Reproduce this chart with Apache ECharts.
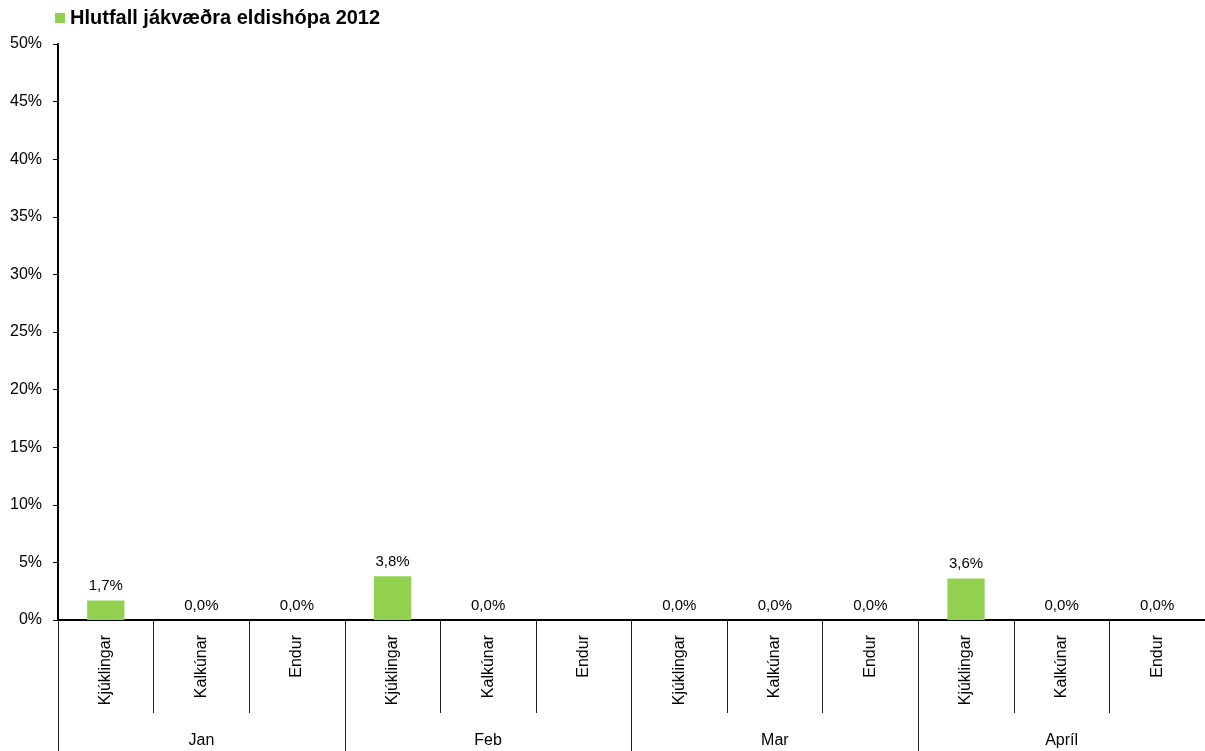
<!DOCTYPE html>
<html><head><meta charset="utf-8">
<script src="https://cdn.jsdelivr.net/npm/echarts@6/dist/echarts.min.js"></script>
<style>html,body{margin:0;padding:0;background:#fff}#c{width:1205px;height:751px}</style>
</head><body><div id="c"></div>
<script>
const categories = ['Kjúklingar','Kalkúnar','Endur','Kjúklingar','Kalkúnar','Endur','Kjúklingar','Kalkúnar','Endur','Kjúklingar','Kalkúnar','Endur'];
const groups = ['Jan','Feb','Mar','Apríl'];
const values = [1.7,0,0,3.8,0,null,0,0,0,3.6,0,0];
const seriesName = 'Hlutfall jákvæðra eldishópa 2012';
const yTicks = {min:0,max:50,interval:5};

const chart = echarts.init(document.getElementById('c'));
const font = '"Liberation Sans", Arial, sans-serif';
chart.setOption({
  animation:false,
  textStyle:{fontFamily:font},
  legend:{left:55,top:8,padding:0,itemWidth:10,itemHeight:10,itemGap:6,icon:'rect',
    textStyle:{fontFamily:font,fontWeight:'bold',fontSize:20,color:'#000'},data:[seriesName]},
  grid:{left:58,right:0,top:44,bottom:131,containLabel:false},
  xAxis:[{
    type:'category',data:categories,
    axisLine:{lineStyle:{color:'#000',width:2}},
    axisTick:{show:true,interval:0,length:93,lineStyle:{color:'#222',width:1}},
    axisLabel:{interval:0,rotate:90,margin:15,fontSize:16,color:'#000',fontFamily:font}
  },{
    type:'category',data:groups,position:'bottom',
    axisLine:{show:false},
    axisTick:{show:true,interval:0,length:131,lineStyle:{color:'#222',width:1}},
    axisLabel:{interval:0,margin:113,fontSize:16,color:'#000',fontFamily:font}
  }],
  yAxis:{type:'value',min:yTicks.min,max:yTicks.max,interval:yTicks.interval,
    axisLine:{show:true,lineStyle:{color:'#000',width:2}},
    axisTick:{show:true,length:5,lineStyle:{color:'#000'}},
    splitLine:{show:false},
    axisLabel:{formatter:v=>v+'%',fontSize:16,color:'#000',margin:16,fontFamily:font}},
  series:[{
    name:seriesName,type:'bar',xAxisIndex:0,data:values,
    barCategoryGap:'61%',
    itemStyle:{color:'#92D050'},
    label:{show:true,position:'top',distance:7,fontSize:15,color:'#000',fontFamily:font,
      formatter:p=>p.value==null?'':p.value.toFixed(1).replace('.',',')+'%'}
  }]
});
</script></body></html>
